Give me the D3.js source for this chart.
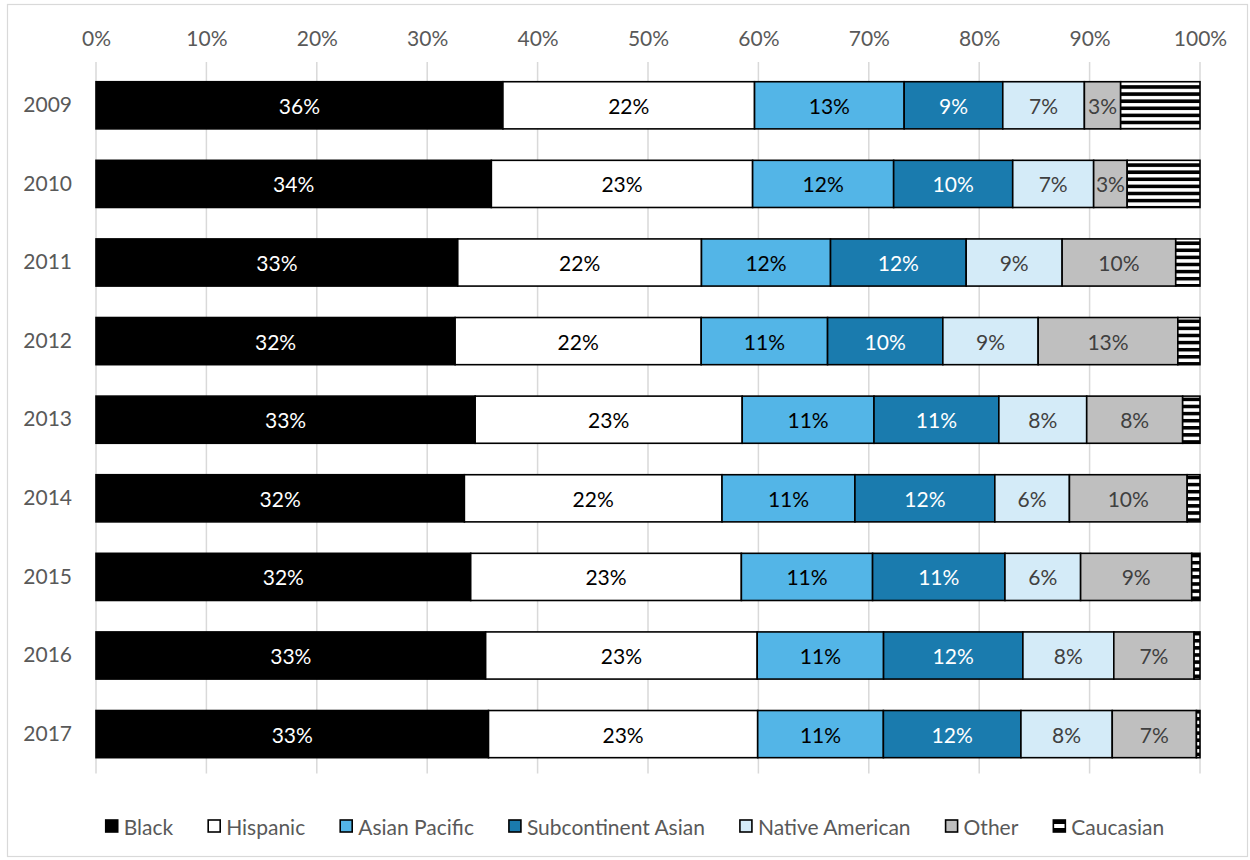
<!DOCTYPE html>
<html>
<head>
<meta charset="utf-8">
<script src="https://cdn.jsdelivr.net/npm/d3@7"></script>
<style>
  html, body { margin: 0; padding: 0; background: #ffffff; }
  svg { display: block; font-family: "Lato", "Carlito", "Open Sans", sans-serif; }
</style>
</head>
<body>
<svg id="chart" width="1250" height="860"></svg>
<script>
// Years shown on the category axis
const years = ["2009", "2010", "2011", "2012", "2013", "2014", "2015", "2016", "2017"];

// Percent of students by group, per year (raw shares; each bar is scaled to 100%)
const black        = [35.9, 34.2, 32.8, 32.4, 32.8, 31.6, 31.7, 33.0, 33.1];
const hispanic     = [22.2, 22.6, 22.1, 22.2, 23.1, 22.1, 22.9, 23.0, 22.7];
const asianPacific = [13.2, 12.2, 11.7, 11.4, 11.4, 11.4, 11.1, 10.7, 10.6];
const subcontinent = [8.7, 10.3, 12.3, 10.4, 10.8, 12.0, 11.2, 11.8, 11.6];
const nativeAm     = [7.2, 7.0, 8.7, 8.6, 7.6, 6.4, 6.4, 7.7, 7.7];
const other        = [3.2, 2.9, 10.3, 12.6, 8.3, 10.1, 9.4, 6.8, 7.1];
const caucasian    = [7.0, 6.3, 2.2, 2.0, 1.5, 1.1, 0.7, 0.5, 0.3];

// Series names, in stacking order
const groups = ["Black", "Hispanic", "Asian Pacific", "Subcontinent Asian", "Native American", "Other", "Caucasian"];
const seriesValues = [black, hispanic, asianPacific, subcontinent, nativeAm, other, caucasian];

// Axis tick values
const xTicks = [0, 0.1, 0.2, 0.3, 0.4, 0.5, 0.6, 0.7, 0.8, 0.9, 1.0];

// Styling per series
const fills = {
  "Black": "#000000",
  "Hispanic": "#ffffff",
  "Asian Pacific": "#53b5e7",
  "Subcontinent Asian": "#1a7bae",
  "Native American": "#d4ebf8",
  "Other": "#bfbfbf",
  "Caucasian": "url(#stripes)"
};
const labelColors = {
  "Black": "#ffffff",
  "Hispanic": "#000000",
  "Asian Pacific": "#000000",
  "Subcontinent Asian": "#ffffff",
  "Native American": "#404040",
  "Other": "#404040"
};
const labelled = new Set(["Black", "Hispanic", "Asian Pacific", "Subcontinent Asian", "Native American", "Other"]);

const FS = 21;

// Build table rows for the stack layout
const rows = years.map((y, i) => {
  const r = { year: y };
  groups.forEach((g, k) => { r[g] = seriesValues[k][i]; });
  return r;
});

const svg = d3.select("#chart");
const plot = { left: 96, right: 1200, top: 66, bottom: 773.4 };

// Chart outline
svg.append("rect")
  .attr("x", 7.5).attr("y", 4.5)
  .attr("width", 1240).attr("height", 852)
  .attr("fill", "#ffffff")
  .attr("stroke", "#d9d9d9")
  .attr("stroke-width", 1.2);

// Stripe pattern for Caucasian
const defs = svg.append("defs");
const pat = defs.append("pattern")
  .attr("id", "stripes")
  .attr("patternUnits", "userSpaceOnUse")
  .attr("width", 8).attr("height", 7.1);
pat.append("rect").attr("width", 8).attr("height", 7.1).attr("fill", "#ffffff");
pat.append("rect").attr("y", 0).attr("width", 8).attr("height", 3.6).attr("fill", "#000000");

const x = d3.scaleLinear().domain([0, 1]).range([plot.left, plot.right]);
const y = d3.scaleBand().domain(years).range([plot.top, plot.bottom])
  .paddingInner(0.4).paddingOuter(0.2);

// Gridlines
svg.append("g")
  .selectAll("line")
  .data(xTicks.slice(1))
  .join("line")
  .attr("x1", d => x(d)).attr("x2", d => x(d))
  .attr("y1", plot.top - 4).attr("y2", plot.bottom)
  .attr("stroke", "#d9d9d9")
  .attr("stroke-width", 1.5);

// Category axis line
svg.append("line")
  .attr("x1", x(0)).attr("x2", x(0))
  .attr("y1", plot.top - 4).attr("y2", plot.bottom)
  .attr("stroke", "#d9d9d9")
  .attr("stroke-width", 1.5);

// Top percentage axis
const xAxis = d3.axisTop(x).tickValues(xTicks).tickFormat(d3.format(".0%")).tickSize(0).tickPadding(0);
const gx = svg.append("g").attr("transform", `translate(0, 46)`).call(xAxis);
gx.select(".domain").remove();
gx.selectAll("text")
  .attr("font-size", FS)
  .attr("fill", "#595959")
  .attr("font-family", "Lato, Carlito, sans-serif");

// Year axis labels
const yAxis = d3.axisLeft(y).tickSize(0).tickPadding(24);
const gy = svg.append("g").attr("transform", `translate(${x(0)}, 0)`).call(yAxis);
gy.select(".domain").remove();
gy.selectAll("text")
  .attr("font-size", FS)
  .attr("fill", "#595959")
  .attr("font-family", "Lato, Carlito, sans-serif");

// Stacked, normalised to 100%
const stacked = d3.stack().keys(groups).offset(d3.stackOffsetExpand)(rows);

const layers = svg.append("g")
  .selectAll("g")
  .data(stacked)
  .join("g")
  .attr("fill", d => fills[d.key]);

layers.selectAll("rect")
  .data(d => d.map(p => ({ p, key: d.key })))
  .join("rect")
  .attr("x", d => x(d.p[0]))
  .attr("y", d => y(d.p.data.year))
  .attr("width", d => x(d.p[1]) - x(d.p[0]))
  .attr("height", y.bandwidth())
  .attr("stroke", "#000000")
  .attr("stroke-width", 1.6);

// Data labels showing the raw value
const fmt = d3.format(".0f");
layers.filter(d => labelled.has(d.key))
  .selectAll("text")
  .data(d => d.map(p => ({ p, key: d.key })))
  .join("text")
  .attr("x", d => (x(d.p[0]) + x(d.p[1])) / 2)
  .attr("y", d => y(d.p.data.year) + y.bandwidth() / 2)
  .attr("text-anchor", "middle")
  .attr("dominant-baseline", "central")
  .attr("font-size", FS)
  .attr("fill", d => labelColors[d.key])
  .text(d => fmt(d.p.data[d.key]) + "%");

// Legend
const legendY = 826;
const legend = svg.append("g");
const sw = 12, gapText = 6, gapItem = 35;
let cx = 0;
groups.forEach(g => {
  const it = legend.append("g");
  it.append("rect")
    .attr("x", 0).attr("y", -sw / 2)
    .attr("width", sw).attr("height", sw)
    .attr("fill", g === "Caucasian" ? "#ffffff" : fills[g])
    .attr("stroke", "#000000")
    .attr("stroke-width", 1.6);
  if (g === "Caucasian") {
    it.append("rect")
      .attr("x", 0).attr("y", -sw / 2)
      .attr("width", sw).attr("height", 4)
      .attr("fill", "#000000");
    it.append("rect")
      .attr("x", 0).attr("y", sw / 2 - 4)
      .attr("width", sw).attr("height", 4)
      .attr("fill", "#000000");
  }
  const t = it.append("text")
    .attr("x", sw + gapText)
    .attr("y", 0)
    .attr("dominant-baseline", "central")
    .attr("font-size", FS)
    .attr("fill", "#595959")
    .text(g);
  const w = sw + gapText + t.node().getComputedTextLength();
  it.attr("transform", `translate(${cx}, ${legendY})`);
  cx += w + gapItem;
});
const totalW = cx - gapItem;
legend.attr("transform", `translate(${(100 + 1170) / 2 - totalW / 2}, 0)`);
</script>
</body>
</html>
